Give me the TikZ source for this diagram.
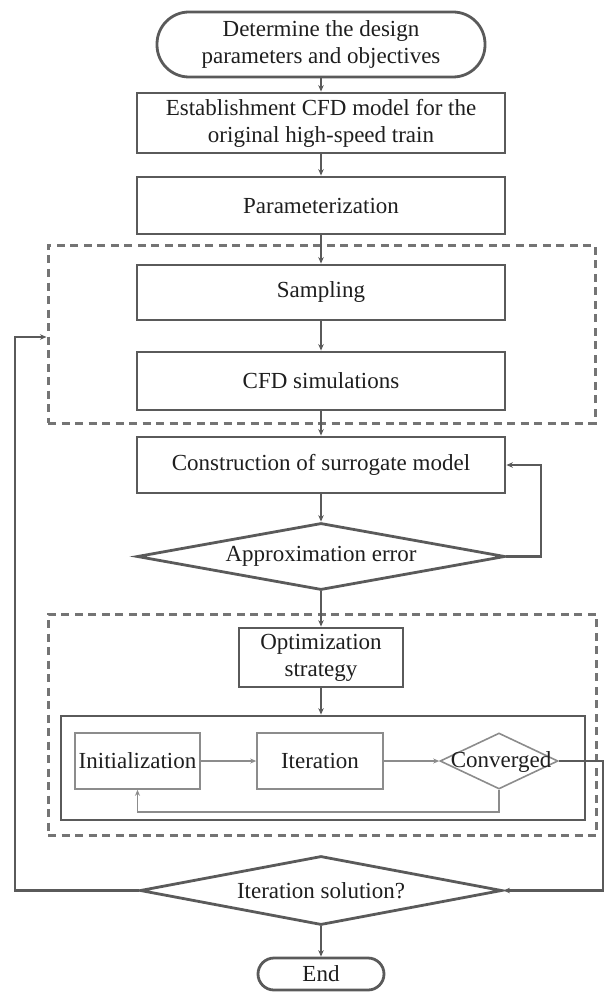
\documentclass[tikz,border=0pt]{standalone}
\usepackage{fontspec}
\setmainfont{Liberation Serif}
\usetikzlibrary{shapes.geometric,arrows.meta}
\definecolor{ln}{HTML}{5A5A5A}
\definecolor{lt}{HTML}{8C8C8C}
\definecolor{dl}{HTML}{747474}
\definecolor{tx}{HTML}{1E1E1E}
\begin{document}
\begin{tikzpicture}[x=1pt,y=-1pt,
  every node/.style={text=tx, font=\fontsize{23}{27}\selectfont, align=center, inner sep=0pt},
  mainbox/.style={draw=ln, line width=2.8pt, rectangle, minimum width=368pt},
  termbox/.style={draw=ln, line width=2.8pt, rectangle},
  dia/.style={draw=ln, line width=2.8pt, diamond},
  lightbox/.style={draw=lt, line width=1.6pt, rectangle},
  dashbox/.style={draw=dl, line width=3pt, dash pattern=on 8pt off 5.5pt, rectangle},
  arr/.style={draw=ln, line width=2.4pt, -{Stealth[length=6.5pt,width=5.5pt]}},
  thinarr/.style={draw=lt, line width=1.6pt, -{Stealth[length=6pt,width=5pt]}},
]
\useasboundingbox (0,0) rectangle (604,992);

% dashed group boxes
\node[dashbox, minimum width=547pt, minimum height=178pt] (d1) at (321.5,334) {};
\node[dashbox, minimum width=548pt, minimum height=221pt] (d2) at (322,724.5) {};

% main column
\node[termbox, rounded corners=32pt, minimum width=328pt, minimum height=65pt] (start) at (321,44.5) {Determine the design\\parameters and objectives};
\node[mainbox, minimum height=60pt] (est) at (321,123) {Establishment CFD model for the\\original high-speed train};
\node[mainbox, minimum height=57pt] (param) at (321,205.5) {Parameterization};
\node[mainbox, minimum height=55pt] (samp) at (321,292.5) {Sampling};
\node[mainbox, minimum height=58pt] (cfd) at (321,381) {CFD simulations};
\node[mainbox, minimum height=56pt] (cons) at (321,465) {Construction of surrogate model};
\node[dia, minimum width=368pt, minimum height=67pt] (approx) at (321,556.5) {};
\node (approxt) at (approx.center) {Approximation error};
\node[mainbox, minimum width=164pt, minimum height=59pt] (opt) at (321,657.5) {Optimization\\strategy};
\node[termbox, minimum width=524pt, minimum height=104pt] (inner) at (323,768) {};
\node[lightbox, minimum width=125pt, minimum height=56pt] (init) at (137.5,761) {Initialization};
\node[lightbox, minimum width=126pt, minimum height=56pt] (iter) at (320,761) {Iteration};
\node[draw=lt, line width=1.6pt, diamond, minimum width=118pt, minimum height=56pt] (conv) at (499,761) {};
\node (convt) at (501,762) {Converged};
\node[dia, minimum width=362pt, minimum height=69pt] (itsol) at (321,890.5) {};
\node (itsolt) at (itsol.center) {Iteration solution?};
\node[termbox, rounded corners=16pt, minimum width=126pt, minimum height=32pt] (end) at (321,974) {End};

% helper coordinates
\coordinate (lx) at (15,337);
\coordinate (rx) at (603,0);
\coordinate (ax) at (541,0);
\coordinate (fy) at (0,812);

% connectors
\draw[arr] (start) -- (est);
\draw[arr] (est) -- (param);
\draw[arr] (param) -- (samp);
\draw[arr] (samp) -- (cfd);
\draw[arr] (cfd) -- (cons);
\draw[arr] (cons) -- (approx);
\draw[arr] (approx.east) -- (approx.east -| ax) |- (cons.east);
\draw[arr] (approx) -- (opt);
\draw[arr] (opt) -- (opt.south |- inner.north);
\draw[thinarr] (init) -- (iter);
\draw[thinarr] (iter) -- (conv);
\draw[thinarr] (conv.south) -- (conv.south |- fy) -| (init.south);
\draw[arr] (conv.east) -- (conv.east -| rx) |- (itsol.east);
\draw[arr] (itsol.west) -| (lx) -- (lx -| d1.west);
\draw[arr] (itsol) -- (end);
\end{tikzpicture}
\end{document}
